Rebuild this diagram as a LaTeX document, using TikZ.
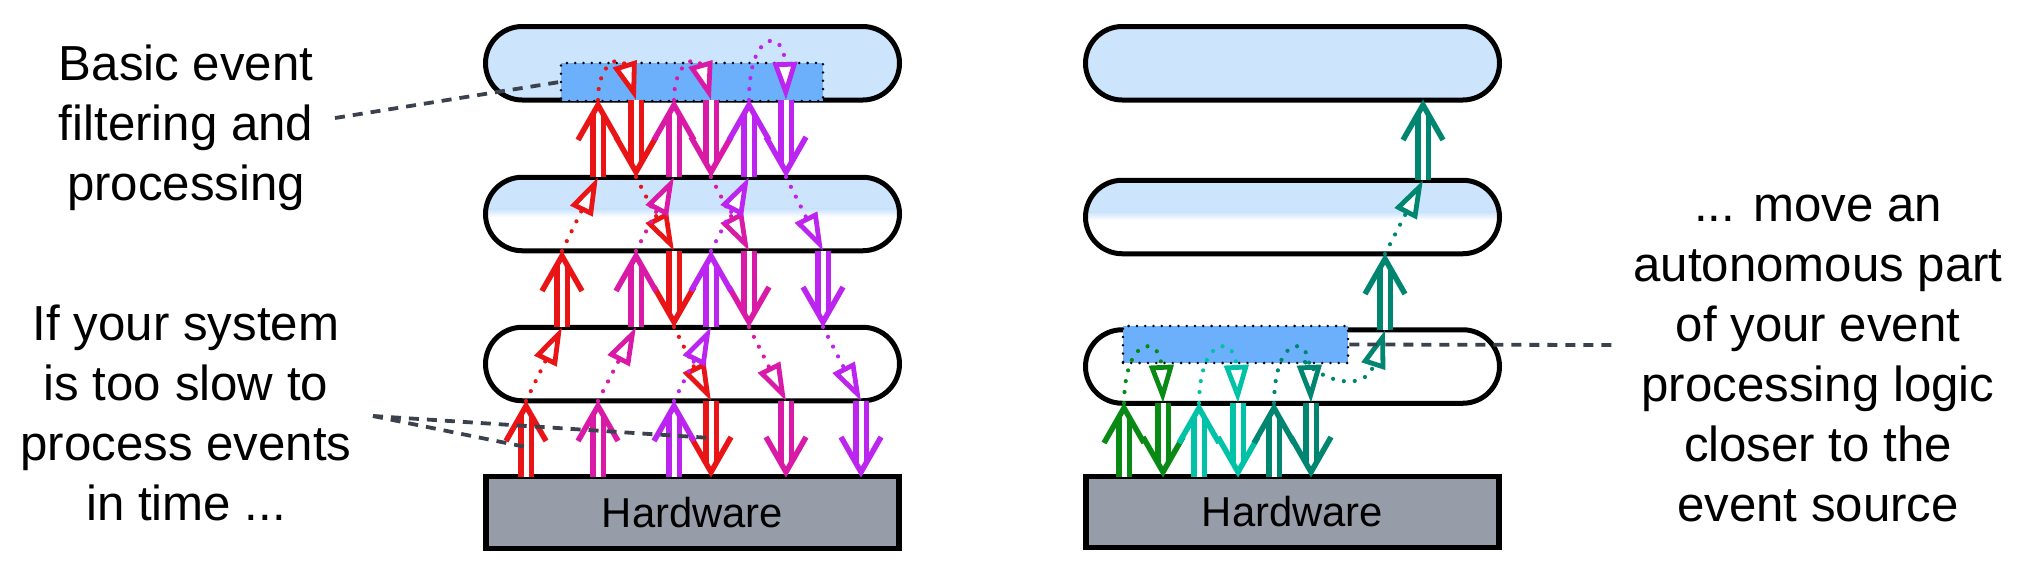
\documentclass[tikz,border=0pt]{standalone}
\usepackage{fontspec}
\setmainfont{Liberation Sans}
\usetikzlibrary{arrows.meta,shapes.misc,calc}

\definecolor{lb}{RGB}{204,228,252}
\definecolor{bb}{RGB}{108,176,252}
\definecolor{hwc}{RGB}{150,157,168}
\definecolor{ldc}{RGB}{60,66,77}
\definecolor{cR}{RGB}{232,20,22}
\definecolor{cM}{RGB}{216,26,166}
\definecolor{cP}{RGB}{188,36,240}
\definecolor{cG}{RGB}{8,138,20}
\definecolor{cC}{RGB}{0,194,166}
\definecolor{cT}{RGB}{0,134,112}

% double "implies" arrow: colour, x, y of base, y of tip, sign (+1 up, -1 down)
\newcommand\dblarr[5]{%
  \pgfmathsetmacro\yLine{#4+(#5)*14}%
  \pgfmathsetmacro\yArm{#4+(#5)*40}%
  \pgfmathsetmacro\yApex{#4+(#5)*5}%
  \draw[#1, line width=2.75pt, double=white, double distance=2.5pt] (#2,#3) -- (#2,\yLine);
  \draw[#1, line width=2.75pt, line join=miter] (#2-20,\yArm) -- (#2,\yApex) -- (#2+20,\yArm);
}

\begin{document}
\begin{tikzpicture}[x=0.5pt,y=-0.5pt,
  pill/.style={rounded rectangle, draw=black, line width=2.5pt,
    minimum width=207pt, minimum height=36.75pt, inner sep=0pt},
  pilltwo/.style={pill, fill=white, path picture={
      \fill[lb] ([yshift=5pt]path picture bounding box.north west)
        rectangle ([yshift=2.5pt]path picture bounding box.east);
      \shade[top color=lb, bottom color=white]
        ([yshift=2.51pt]path picture bounding box.west)
        rectangle ([yshift=-1.5pt]path picture bounding box.east);}},
  hwbox/.style={rectangle, draw=black, line width=2.6pt, fill=hwc,
    minimum width=206.5pt, minimum height=35.8pt, inner sep=0pt,
    font=\fontsize{20.9}{25}\selectfont},
  procbox/.style={rectangle, draw=black, fill=bb, line width=1.4pt,
    dash pattern=on 0pt off 4.15pt, line cap=round, inner sep=0pt},
  ev/.style={line width=2.1pt, dash pattern=on 0pt off 5.5pt, line cap=round,
    -{Triangle[length=19pt,width=12pt,line width=2.4pt,fill=white]}},
  lead/.style={draw=ldc, line width=1.9pt, dash pattern=on 5pt off 4pt},
  lbl/.style={align=center, font=\fontsize{24.6}{30}\selectfont, inner sep=0pt},
]
\useasboundingbox (0,0) rectangle (2034,564);

% ---------- left column ----------
\node[pill, fill=lb] (L1) at (692.5,63.25) {};
\node[pilltwo] (L2) at (692.5,214) {};
\node[pill, fill=white] (L3) at (692.5,364) {};
\node[hwbox] (LH) at (692.5,512.5) {Hardware};
\node[procbox, minimum width=131pt, minimum height=19pt] (LB) at (692,82) {};

% ---------- right column ----------
\node[pill, fill=lb] (R1) at (1292.5,63.25) {};
\node[pilltwo] (R2) at (1292.5,217) {};
\node[pill, fill=white] (R3) at (1292.5,366.5) {};
\node[hwbox] (RH) at (1292.5,512) {Hardware};
\node[procbox, minimum width=112.5pt, minimum height=18.5pt] (RB) at (1235.5,344.5) {};

% ---------- left double arrows ----------
% red
\dblarr{cR}{526}{477}{401}{1}
\dblarr{cR}{562}{327}{251}{1}
\dblarr{cR}{598}{177}{100}{1}
\dblarr{cR}{636}{100}{177}{-1}
\dblarr{cR}{674}{251}{327}{-1}
\dblarr{cR}{711}{401}{477}{-1}
% magenta
\dblarr{cM}{598}{477}{401}{1}
\dblarr{cM}{636}{327}{251}{1}
\dblarr{cM}{674}{177}{100}{1}
\dblarr{cM}{711}{100}{177}{-1}
\dblarr{cM}{749}{251}{327}{-1}
\dblarr{cM}{786}{401}{477}{-1}
% purple
\dblarr{cP}{674}{477}{401}{1}
\dblarr{cP}{711}{327}{251}{1}
\dblarr{cP}{749}{177}{100}{1}
\dblarr{cP}{786}{100}{177}{-1}
\dblarr{cP}{823}{251}{327}{-1}
\dblarr{cP}{861}{401}{477}{-1}

% ---------- left dotted event paths ----------
\draw[ev, cR] (526,401) -- (562,327);
\draw[ev, cR] (562,251) -- (598,177);
\draw[ev, cR] (598,100) .. controls (598,60) and (622,55) .. (636,100);
\draw[ev, cR] (636,177) -- (674,251);
\draw[ev, cR] (674,327) -- (711,401);

\draw[ev, cM] (598,401) -- (636,327);
\draw[ev, cM] (636,251) -- (674,177);
\draw[ev, cM] (674,100) .. controls (674,60) and (698,55) .. (711,100);
\draw[ev, cM] (711,177) -- (749,251);
\draw[ev, cM] (749,327) -- (786,401);

\draw[ev, cP] (674,401) -- (711,327);
\draw[ev, cP] (711,251) -- (749,177);
\draw[ev, cP] (749,100) .. controls (749,30) and (784,28) .. (786,100);
\draw[ev, cP] (786,177) -- (823,251);
\draw[ev, cP] (823,327) -- (861,401);

% ---------- right double arrows ----------
\dblarr{cG}{1124}{477}{403}{1}
\dblarr{cG}{1163}{403}{477}{-1}
\dblarr{cC}{1199}{477}{403}{1}
\dblarr{cC}{1238}{403}{477}{-1}
\dblarr{cT}{1274}{477}{403}{1}
\dblarr{cT}{1311}{403}{477}{-1}
\dblarr{cT}{1385}{330}{254}{1}
\dblarr{cT}{1423}{180}{100}{1}

% ---------- right dotted event paths ----------
\draw[ev, cG] (1124,403) .. controls (1125,335) and (1160,335) .. (1163,403);
\draw[ev, cC] (1199,403) .. controls (1200,335) and (1235,335) .. (1238,403);
\draw[ev, cT] (1274,403) .. controls (1275,335) and (1308,335) .. (1311,403);
\draw[ev, cT] (1305,362) .. controls (1325,382) and (1365,392) .. (1385,330);
\draw[ev, cT] (1385,254) -- (1423,180);

% ---------- texts ----------
\node[lbl] (T1) at (186,128) {Basic event\\filtering and\\processing};
\node[lbl] (T2) at (186,413) {If your system\\is too slow to\\process events\\in time ...};
\node[lbl] (T3) at (1818,358) {... move an\\autonomous part\\of your event\\processing logic\\closer to the\\event source};

% ---------- leader lines ----------
\coordinate (A1) at (335,118);
\draw[lead] (A1) -- (LB.west);
\coordinate (A2) at (373,416);
\coordinate (A2r) at (526,447);
\coordinate (A2d) at (711,438);
\draw[lead] (A2) -- (A2r);
\draw[lead] (A2) -- (A2d);
\coordinate (A3) at (1612,345);
\draw[lead] (RB.east) -- (A3);
\end{tikzpicture}
\end{document}
